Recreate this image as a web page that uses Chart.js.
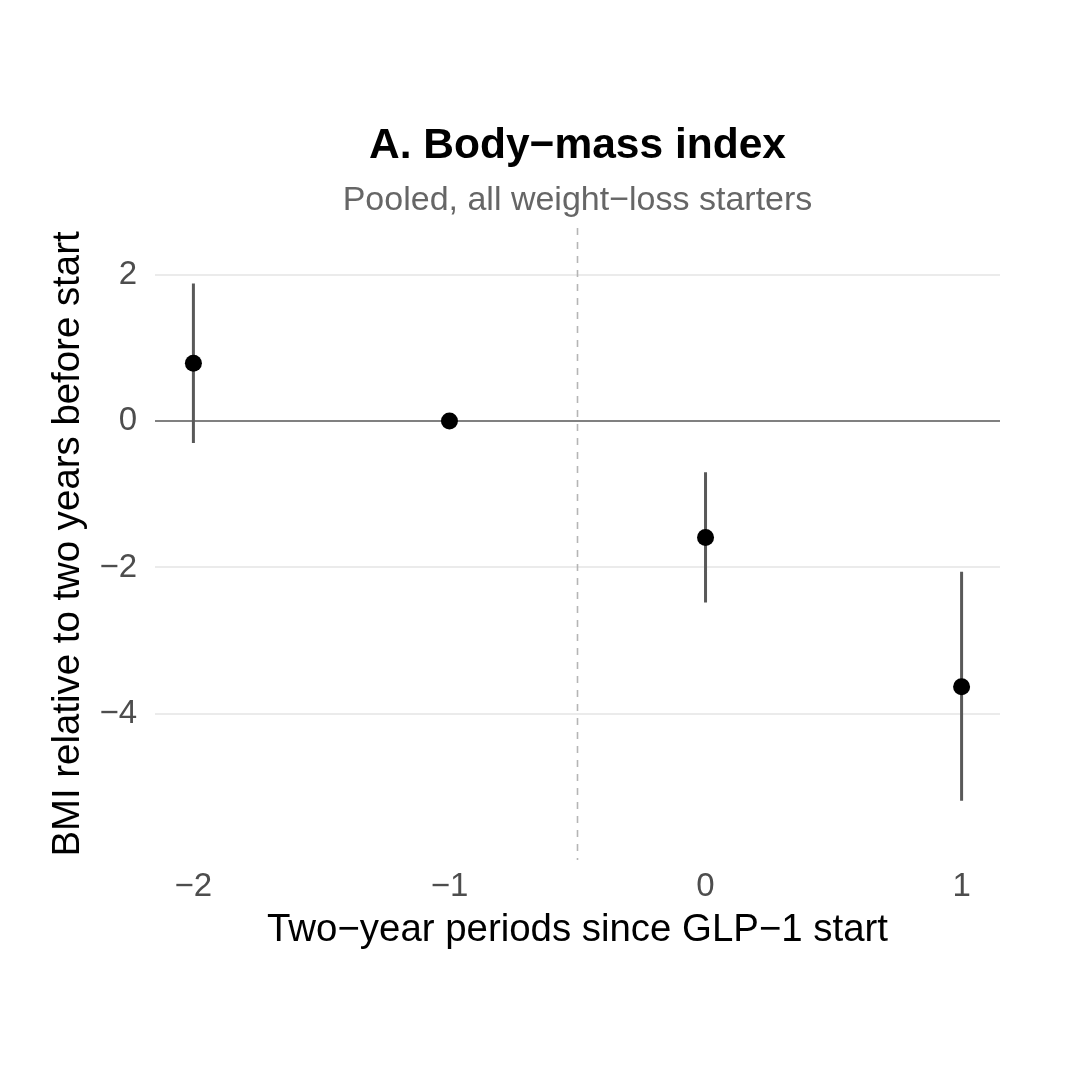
<!DOCTYPE html>
<html>
<head>
<meta charset="utf-8">
<script src="https://cdn.jsdelivr.net/npm/chart.js@4"></script>
<style>
  html, body { margin: 0; padding: 0; background: #ffffff; }
  #wrap { width: 1080px; height: 1089px; position: relative; }
</style>
</head>
<body>
<div id="wrap"><canvas id="c"></canvas></div>
<script>
// ---- data ----
const periods = [-2, -1, 0, 1];
const estimates = [0.79, 0.0, -1.59, -3.63];
const ciLow = [-0.30, null, -2.48, -5.19];
const ciHigh = [1.88, null, -0.70, -2.06];
const xTicks = [-2, -1, 0, 1];
const yTicks = [2, 0, -2, -4];
const titleText = "A. Body\u2212mass index";
const subtitleText = "Pooled, all weight\u2212loss starters";
const xTitle = "Two\u2212year periods since GLP\u22121 start";
const yTitle = "BMI relative to two years before start";
const startLine = -0.5;

const FONT = "'Liberation Sans', Arial, Helvetica, sans-serif";

const pointData = periods.map((p, i) => ({ x: p, y: estimates[i] }));
const ciData = [];
periods.forEach((p, i) => {
  if (ciLow[i] === null) return;
  ciData.push({ x: p, y: ciLow[i] }, { x: p, y: ciHigh[i] }, { x: p, y: null });
});

const fmt = v => (v < 0 ? "\u2212" + Math.abs(v) : String(v));

const refLines = {
  id: 'refLines',
  beforeDatasetsDraw(chart) {
    const { ctx, chartArea, scales } = chart;
    ctx.save();
    const y0 = scales.y.getPixelForValue(0);
    ctx.strokeStyle = '#808080';
    ctx.lineWidth = 2;
    ctx.beginPath();
    ctx.moveTo(chartArea.left, y0);
    ctx.lineTo(chartArea.right, y0);
    ctx.stroke();
    const xv = scales.x.getPixelForValue(startLine);
    ctx.strokeStyle = '#b5b5b5';
    ctx.lineWidth = 1.6;
    ctx.setLineDash([7, 7]);
    ctx.beginPath();
    ctx.moveTo(xv, chartArea.top);
    ctx.lineTo(xv, chartArea.bottom);
    ctx.stroke();
    ctx.restore();
  }
};

const titles = {
  id: 'titles',
  afterDraw(chart) {
    const { ctx, chartArea } = chart;
    const cx = (chartArea.left + chartArea.right) / 2;
    ctx.save();
    ctx.textAlign = 'center';
    ctx.textBaseline = 'alphabetic';
    ctx.fillStyle = '#000000';
    ctx.font = "bold 42.5px " + FONT;
    ctx.fillText(titleText, cx, 158);
    ctx.fillStyle = '#666666';
    ctx.font = "34px " + FONT;
    ctx.fillText(subtitleText, cx, 210);
    ctx.restore();
  }
};

new Chart(document.getElementById('c'), {
  type: 'scatter',
  data: {
    datasets: [
      {
        label: 'CI',
        data: ciData,
        showLine: true,
        spanGaps: false,
        borderColor: '#595959',
        borderWidth: 3,
        pointRadius: 0,
        pointHoverRadius: 0,
        order: 2
      },
      {
        label: 'Estimate',
        data: pointData,
        backgroundColor: '#000000',
        borderColor: '#000000',
        borderWidth: 0,
        pointRadius: 8.5,
        pointHoverRadius: 8.5,
        order: 1
      }
    ]
  },
  options: {
    responsive: true,
    maintainAspectRatio: false,
    animation: false,
    events: [],
    layout: { padding: { left: 0, right: 80, top: 228, bottom: 100 } },
    plugins: {
      legend: { display: false },
      title: { display: false },
      tooltip: { enabled: false }
    },
    scales: {
      x: {
        type: 'linear',
        min: -2.15,
        max: 1.15,
        afterBuildTicks(scale) { scale.ticks = xTicks.map(v => ({ value: v })); },
        afterFit(scale) { scale.height = 129; },
        grid: { display: false, drawTicks: false },
        border: { display: false },
        ticks: {
          padding: 7,
          color: '#4d4d4d',
          font: { family: FONT, size: 33 },
          callback: v => fmt(v)
        },
        title: {
          display: true,
          text: xTitle,
          color: '#000000',
          font: { family: FONT, size: 38.4 },
          padding: { top: 0, bottom: 36 }
        }
      },
      y: {
        type: 'linear',
        min: -6.0,
        max: 2.64,
        afterBuildTicks(scale) { scale.ticks = yTicks.map(v => ({ value: v })); },
        afterFit(scale) { scale.width = 155; },
        grid: { color: '#ebebeb', lineWidth: 2, drawTicks: false },
        border: { display: false },
        ticks: {
          padding: 18,
          color: '#4d4d4d',
          font: { family: FONT, size: 33 },
          callback: v => fmt(v)
        },
        title: {
          display: true,
          text: yTitle,
          color: '#000000',
          font: { family: FONT, size: 38.4 },
          padding: { top: 45, bottom: 0 }
        }
      }
    }
  },
  plugins: [refLines, titles]
});
</script>
</body>
</html>
